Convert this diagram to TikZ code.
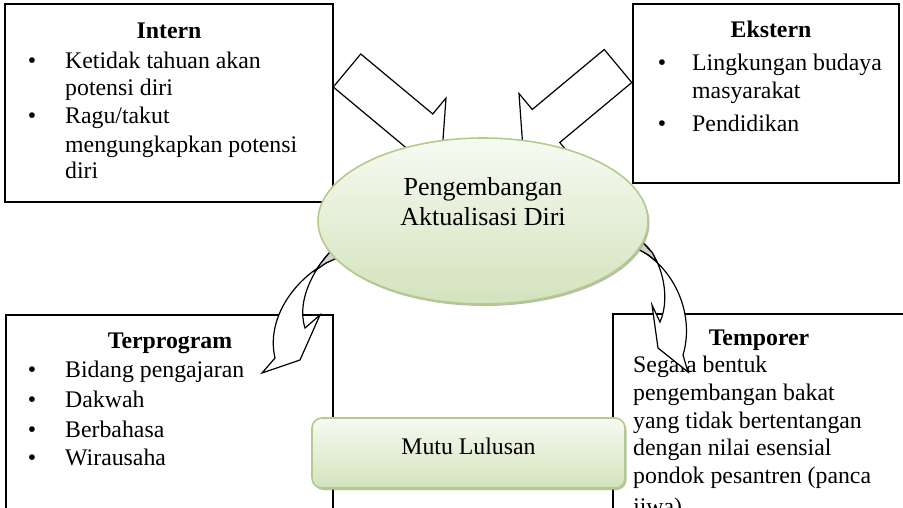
\documentclass[tikz,border=0pt]{standalone}
\usepackage{fontspec}
\setmainfont{Liberation Serif}
\usetikzlibrary{shapes.geometric,shadows}
\definecolor{daunGaris}{HTML}{B3CC8A}
\definecolor{daunAtas}{HTML}{F7FAF2}
\definecolor{daunBawah}{HTML}{D3E3BD}
\definecolor{bayang}{HTML}{A4AD98}
\begin{document}
\begin{tikzpicture}[x=1pt,y=-1pt,
  kotak/.style={draw,fill=white,line width=1.3pt,anchor=north west,inner sep=0pt,outer sep=0pt},
  blok/.style={draw,fill=white,line width=1.2pt,line join=miter},
  pita/.style={draw,fill=white,line width=1.2pt,line join=miter},
  hijau/.style={draw=daunGaris,line width=1.6pt,top color=daunAtas,bottom color=daunBawah,
    inner sep=0pt,outer sep=0pt,
    drop shadow={shadow xshift=1.5pt,shadow yshift=-2pt,fill=bayang,opacity=.8}},
  teks/.style={font=\fontsize{23.8}{28}\selectfont,anchor=base west,inner sep=0pt},
  judul/.style={font=\fontsize{23.8}{28}\selectfont\bfseries,anchor=base,inner sep=0pt},
  titik/.style={font=\fontsize{23.8}{28}\selectfont,anchor=base,inner sep=0pt}]
\clip (0,0) rectangle (903,507);
\pgfmathsetmacro{\batang}{21.5}
\pgfmathsetmacro{\leher}{93.7}
\pgfmathsetmacro{\sayap}{42.2}
\pgfmathsetmacro{\ujung}{124}
% panah blok atas
\foreach \px/\py/\rot in {347/70.5/-39.8,618/66/-140.2} {
 \draw[blok,shift={(\px,\py)},rotate=\rot] (0,-\batang) -- (\leher,-\batang) -- (\leher,-\sayap) -- (\ujung,0)
   -- (\leher,\sayap) -- (\leher,\batang) -- (0,\batang) -- cycle;
}
% kotak
\node[kotak,minimum width=328pt,minimum height=198pt] (intern) at (5,4) {};
\node[kotak,minimum width=266pt,minimum height=179pt] (ekstern) at (633,4) {};
\node[kotak,minimum width=327pt,minimum height=230pt] (terprogram) at (6,315) {};
\node[kotak,minimum width=300pt,minimum height=230pt] (temporer) at (613,314) {};

\node[judul] (internjudul) at (169,38) {Intern};
\foreach \y [count=\i] in {68,123}
  \node[titik] (internb\i) at (32,\y) {\textbullet};
\foreach \y/\t [count=\i] in {68/Ketidak tahuan akan,95/potensi diri,123/{Ragu/takut},152/mengungkapkan potensi,178/diri}
  \node[teks] (intern\i) at (65,\y) {\t};

\node[judul] (eksternjudul) at (771,37) {Ekstern};
\foreach \y [count=\i] in {70,131}
  \node[titik] (eksternb\i) at (662,\y) {\textbullet};
\foreach \y/\t [count=\i] in {70/Lingkungan budaya,98/masyarakat,131/Pendidikan}
  \node[teks] (ekstern\i) at (692,\y) {\t};

\node[judul] (terprogramjudul) at (170,348) {Terprogram};
\foreach \y/\t [count=\i] in {377/Bidang pengajaran,407/Dakwah,437/Berbahasa,465/Wirausaha} {
  \node[titik] (terprogramb\i) at (32,\y) {\textbullet};
  \node[teks] (terprogram\i) at (65,\y) {\t};
}

\node[judul] (temporerjudul) at (759,345) {Temporer};
\foreach \y/\t [count=\i] in {372/Segala bentuk,400/pengembangan bakat,428/yang tidak bertentangan,455/dengan nilai esensial,483/pondok pesantren (panca,514/jiwa)}
  \node[teks] (temporer\i) at (633,\y) {\t};

% panah lengkung bawah
\draw[pita] (337,258) .. controls (300,272) and (265,315) .. (275,358) -- (262,373) -- (300,360) -- (320,315)
  -- (305,328) .. controls (296,300) and (315,268) .. (330,252) -- cycle;
\filldraw[fill=gray!35,line width=1.2pt] (337,258) -- (326,263) -- (316,270) -- (321,263) -- (325,258) -- (330,252);
\draw[pita] (638,249) .. controls (675,268) and (695,315) .. (683,355) -- (688,372) -- (658,348) -- (652,305)
  -- (660,322) .. controls (672,295) and (660,255) .. (642,242) -- cycle;
\filldraw[fill=gray!35,line width=1.2pt] (638,249) -- (648.6,255) -- (657,262) -- (652.4,252.7) -- (642,242);

% elips dan mutu
\node[hijau,ellipse,minimum width=330pt,minimum height=166pt] (diri) at (483,221) {};
\node[font=\fontsize{26}{30}\selectfont,anchor=base,inner sep=0pt] (diri1) at (483,195) {Pengembangan};
\node[font=\fontsize{26}{30}\selectfont,anchor=base,inner sep=0pt] (diri2) at (483,225) {Aktualisasi Diri};

\node[hijau,rounded corners=10pt,minimum width=313pt,minimum height=70pt] (mutu) at (468.5,453) {};
\node[titik] (mututeks) at (468.5,454) {Mutu Lulusan};
\end{tikzpicture}
\end{document}
